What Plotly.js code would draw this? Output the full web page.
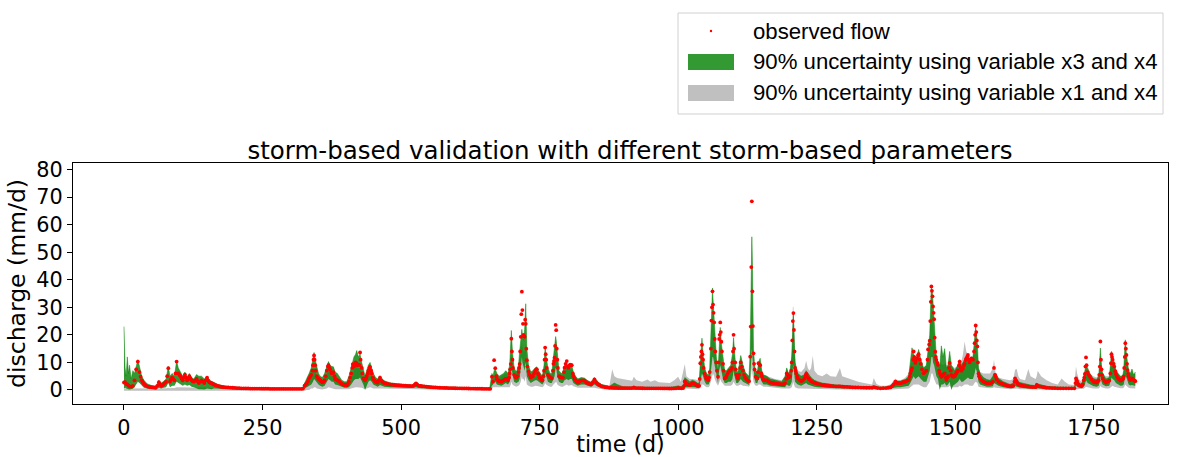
<!DOCTYPE html>
<html><head><meta charset="utf-8">
<script src="https://cdn.plot.ly/plotly-3.0.1.min.js"></script>
<style>body{margin:0;background:#fff}#chart{width:1183px;height:457px}</style>
</head><body><div id="chart"></div>
<script>
// ---------- observed flow: day and discharge (mm/d) ----------
const tObs = [
0,2,4,6,8,10,13,16,19,22,
25,28,30,32,34,36,39,42,45,48,
51,54,57,60,63,65,67,70,72,74,
76,78,80,83,85,87,89,91,93,95,
98,100,102,104,106,108,110,112,114,116,
118,120,122,124,126,128,131,133,135,137,
140,142,145,147,150,152,154,156,158,160,
162,165,168,171,174,177,180,184,188,192,
196,200,204,208,212,216,220,224,228,232,
236,240,244,248,252,256,260,264,268,272,
276,280,284,288,292,296,300,304,308,312,
316,320,323,326,328,330,332,334,336,338,
340,341,342,343,344,345,346,348,350,351,
353,354,356,358,360,362,364,366,368,369,
371,372,374,375,377,378,380,381,383,385,
387,389,391,393,395,398,400,402,404,406,
408,410,412,413,414,415,417,418,419,420,
421,423,425,426,427,429,430,432,434,435,
437,438,440,441,443,444,446,447,449,450,
452,454,456,458,460,462,464,466,468,470,
473,476,480,484,488,492,496,500,504,508,
512,516,520,523,525,527,529,532,535,538,
542,546,550,554,558,562,566,570,574,578,
582,586,590,594,598,602,606,610,614,618,
622,626,630,634,638,642,646,650,654,658,
661,
664,666,668,670,672,673,675,677,679,681,
683,685,687,689,691,693,695,696,697,698,
699,700,701,702,704,706,708,710,712,713,
714,715,716,717,718,719,720,721,722,723,
724,725,726,727,728,730,732,734,736,738,
740,742,744,745,747,748,750,751,753,755,
757,758,759,760,761,762,763,765,767,769,
771,772,774,775,776,777,778,779,780,781,
782,783,785,787,789,791,792,794,795,797,
799,801,802,804,805,807,808,810,811,813,
815,817,819,821,823,825,828,831,834,837,
840,843,846,849,852,855,858,861,864,868,
872,876,880,884,888,892,896,900,904,908,
912,916,920,924,928,932,936,940,944,948,
952,956,960,964,968,972,976,980,984,988,
992,996,1000,1003,1006,1009,1011,1012,1013,1015,
1017,1019,1021,1023,1025,1026,1028,1030,1032,1035,
1038,1039,1040,1041,1042,1043,1044,1045,1046,1048,
1050,1051,1053,1055,1056,1057,1059,1060,1061,1062,
1063,1064,1065,1066,1067,1069,1070,1072,1073,1074,
1075,1076,1077,1078,1079,1081,1082,1084,1086,1087,
1089,1091,1093,1095,1097,1098,1099,1100,1101,1103,
1104,1105,1107,1108,1110,1112,1113,1115,1117,1119,
1121,1123,1125,1128,1130,1131,1132,1133,1134,1135,
1136,1137,1138,1140,1142,1143,1144,1145,1147,1148,
1150,1151,1153,1154,1157,1160,1163,1166,1169,1172,
1175,1178,1181,1184,1187,1190,1193,1195,1196,1197,
1199,1201,1202,1204,1205,1206,1207,1208,1209,1210,
1211,1212,1213,1215,1216,1219,1222,1225,1228,1230,
1231,1232,1234,1236,1237,1240,1243,1246,1249,1252,
1256,1260,1264,1268,1272,1275,1280,1285,1289,1292,
1296,1300,1305,1310,1315,1320,1325,1330,1335,1340,
1345,1350,1353,1356,1360,1365,1370,1375,1379,1383,
1386,1389,1392,1394,1396,1399,1401,1404,1406,1408,
1410,1413,1416,1418,1419,1421,1422,1424,1425,1426,
1428,1429,1431,1433,1434,1436,1438,1440,1443,1445,
1448,1450,1451,1453,1454,1455,1456,1457,1458,1459,
1460,1461,1462,1463,1464,1465,1466,1468,1469,1471,
1472,1474,1475,1477,1478,1480,1481,1483,1484,1486,
1487,1489,1490,1492,1493,1495,1496,1498,1499,1501,
1502,1504,1505,1507,1508,1510,1511,1513,1514,1516,
1517,1519,1520,1522,1523,1525,1526,1528,1529,1531,
1532,1534,1535,1536,1537,1538,1539,1540,1541,1542,
1543,1545,1548,1551,1554,1557,1560,1563,1566,1568,
1570,1572,1573,1575,1578,1581,1584,1587,1590,1593,
1596,1599,1602,1605,1607,1608,1610,1611,1613,1614,
1617,1620,1623,1626,1629,1632,1636,1640,1645,1647,
1649,1652,1655,1659,1662,1665,1670,1675,1680,1685,
1690,1695,1700,1705,1710,1715,1717,1718,1719,1720,
1722,1723,1726,1728,1730,1732,1733,1734,1735,1736,
1737,1739,1741,1743,1746,1749,1752,1755,1757,1759,
1760,1761,1762,1763,1764,1765,1766,1769,1772,1775,
1778,1780,1781,1782,1783,1784,1786,1787,1789,1790,
1792,1794,1796,1798,1800,1802,1803,1804,1805,1806,
1807,1808,1809,1810,1811,1812,1813,1815,1816,1818,
1819,1821,1822,1824,1825];
const observed = [
2.7,2.8,2.2,2.0,1.6,1.3,1.2,1.5,3.5,7.5,
10.3,6.5,4.8,3.5,2.8,2.2,1.7,1.3,1.1,1.0,
0.9,0.85,0.8,1.5,2.8,2.0,1.5,1.8,2.2,2.6,
3.0,5,7.9,3.0,3.8,4.5,4.0,3.5,6,10.3,
6.0,5.5,5.0,4.2,3.5,4.5,5.6,4.5,3.5,4.2,
5.0,4.2,3.5,3.2,3.0,3.4,4.0,3.2,2.5,3,
3.5,3,2.5,3.5,4.5,3.5,2.8,2.6,2.5,2.2,
2.0,1.7,1.5,1.35,1.2,1.1,1.0,0.95,0.9,0.85,
0.8,0.75,0.7,0.65,0.6,0.6,0.55,0.55,0.5,0.5,
0.5,0.5,0.5,0.45,0.45,0.45,0.45,0.4,0.4,0.4,
0.4,0.4,0.4,0.4,0.4,0.4,0.4,0.4,0.4,0.4,
0.4,0.4,0.5,1.6,2,2.5,3.2,4.2,4.8,5.5,
7,9,11,12.5,11,9,7,5,4.4,4,
3.8,3.6,3.1,2.8,3,3.5,5,7,8.5,9,
8,7.5,6.5,6,6.2,6.5,5,4,3.8,3.6,
3.3,3.0,2.6,2.2,2.0,1.8,1.75,1.7,2.2,3,
4.5,6,8,9.4,9,8.5,9,10,9.8,9.5,
9,9.2,9,13.6,11,8,6,4.2,3.8,3.5,
4.2,5,6,7,8,8.4,7,6,4.5,4,
3.5,3,2.8,2.7,3.5,4.5,3.5,3,2.7,2.5,
2.3,2.2,2.0,1.9,1.8,1.75,1.7,1.65,1.6,1.55,
1.5,1.45,1.4,1.6,2,2.4,2.0,1.6,1.45,1.35,
1.3,1.2,1.1,1.0,0.95,0.9,0.85,0.8,0.78,0.75,
0.72,0.7,0.68,0.65,0.62,0.6,0.58,0.56,0.55,0.54,
0.52,0.51,0.5,0.48,0.46,0.45,0.44,0.42,0.41,0.4,
0.4,
4.8,3,10.8,7.9,5,4,3.5,3.2,3.1,3,
3.3,3.5,3.8,4,3.8,3.5,4.5,6,7.5,9.4,
18.6,14,11,8,5.5,4.8,4.4,5,6.5,8,
9.4,14,19.3,27.5,35.7,29,24,20,19.5,19.3,
25.5,24,15,10.8,8.5,6.7,5.5,4.5,4.8,5,
6,7,7.5,7.5,6,5.5,4.5,4.2,3.8,3.5,
5,7,11,15.4,13,11,8,5.5,5,4.5,
4.3,4.2,7,9.5,10.5,11.7,16,23.6,21.7,15,
11,8,5,4.7,4.5,4.5,4.5,6.5,8.1,9.5,
10.5,8.5,8,8.8,9.2,9,9,6,5,4,
3.5,3,2.7,3,3.3,3.4,3.5,3.4,2.8,2.4,
2.2,2.0,2.8,3.8,2.8,2.2,1.8,1.4,1.2,1.0,
0.9,0.8,0.8,0.75,0.72,0.7,0.7,0.7,0.7,0.7,
0.7,0.7,0.8,0.7,0.68,0.65,0.62,0.6,0.6,0.6,
0.6,0.6,0.6,0.6,0.58,0.57,0.55,0.55,0.52,0.52,
0.55,0.6,0.7,0.65,0.6,0.7,1.5,3.2,2.8,2.2,
2,1.9,1.8,2,2.4,2.5,2.4,2.2,1.8,1.5,
1.5,4,9.7,12,14,16.4,13,11,8,6,
4.8,4.2,3.8,3.6,4.5,6.5,15,25.2,30,35.8,
31,28,24.5,18.5,14,10,7,4.8,10,18.5,
20,24.5,21,17.5,14,9.5,7,4.2,4.5,4.8,
5.8,6.5,7,7.2,8,10,14,20,15,10,
7.5,5.5,4.6,4.2,5.5,8,10,8.5,7,5.5,
4.5,4,3.5,3.2,12.1,23,44.6,68.5,35.8,23.2,
13.3,9.5,7.4,4.8,4.3,4.2,6.5,9.7,9.2,9,
6,5,4,3.6,3.5,3.6,3.1,2.7,2.6,2.5,
2.4,2.3,2.2,2.1,2.0,2.1,2.5,4,6,5.5,
4.5,4.8,5,7,10,18,25,27.9,21.8,14,
8,7,6,4.8,4.2,3.6,3.2,3.5,4.2,5.2,
5.8,5.5,4.5,4,3.8,3.2,2.8,2.6,2.4,2.2,
2.0,1.8,1.7,1.6,1.55,1.5,1.4,1.3,1.3,1.3,
1.2,1.15,1.1,1.0,0.95,0.92,0.9,0.85,0.82,0.8,
0.8,0.8,1.0,0.85,0.7,0.6,0.65,0.7,0.8,0.9,
1.3,2.0,3.0,2.7,2.5,2.5,2.5,2.6,2.8,2.9,
3.0,3.3,3.6,4.8,6,7,7.9,11,14,12,
9.8,10.5,11.5,12.5,13,11,9.5,7.5,6.1,6.5,
7,11,14.7,16.5,17.9,25,32,37.6,36,34,
30.3,28,25.7,19,13.9,12,10.9,9.8,9.1,7,
6.1,5.2,4.8,5.2,5.5,5.8,6,4.5,3.6,4.5,
5,8,9.8,7,5.5,5,4.8,4.9,5,5.7,
6.1,6.7,7,9,10.3,8,7,7.5,8,9,
9.5,10.8,11.5,12.2,12.7,11,10,11,11.5,11.2,
11,14,17,20,23.4,21,18,15.8,10,6,
5,4.2,3.5,3,2.7,2.5,2.45,2.4,2.7,3,
8,5.5,4.8,3.8,3,2.6,2.3,2.1,1.8,1.6,
1.45,1.3,1.35,1.5,3,4.2,3.4,3.0,2.3,2.0,
1.8,1.65,1.5,1.4,1.3,1.2,1.1,1.05,1.0,1.8,
1.5,1.3,1.2,1.0,0.9,0.8,0.75,0.7,0.65,0.6,
0.6,0.6,0.6,0.6,0.6,0.6,2.5,4.2,3.5,3,
2.2,1.8,1.6,1.4,2,3.5,4.5,5.8,8.5,11.8,
9,6.5,5.5,4.8,3.8,3,2.8,2.7,3,3.5,
5.5,8.5,17.6,11,7.5,5.5,4.2,3.3,2.7,3,
3.4,6,9.7,13,12,11,9.5,8.5,6.8,5.8,
4.8,4.2,3.8,3.4,3.5,3.8,4.2,4.8,8,12,
17,15,12.7,9.5,7.2,5.8,4.8,4,3.6,4,
4.2,3.8,3.6,3.3,3.2];

// ---------- uncertainty bands: day ----------
const tBand = [
0,2,4,6,8,10,13,16,19,22,
25,28,32,36,42,50,58,63,67,72,
76,80,83,87,91,95,98,102,106,110,
114,118,122,126,131,135,140,145,150,154,
158,162,170,180,194,210,240,270,300,322,
326,330,334,338,341,343,345,348,351,354,
358,362,366,369,372,375,378,381,385,389,
393,398,402,406,410,413,415,418,420,423,
426,429,432,435,438,441,444,447,450,454,
458,462,466,470,480,495,510,520,527,532,
546,570,600,630,660,664,666,668,670,673,
677,681,685,689,693,696,698,699,701,704,
708,712,714,716,718,719,721,723,724,725,
727,730,734,738,742,745,748,751,755,758,
760,762,765,769,772,775,777,779,780,782,
785,789,792,795,799,802,805,808,811,815,
819,825,831,837,843,849,855,861,868,876,
881,885,890,900,910,917,920,925,935,945,
950,958,965,975,985,993,1000,1005,1010,1012,
1015,1021,1026,1030,1035,1038,1040,1043,1045,1048,
1051,1055,1057,1060,1062,1063,1065,1066,1069,1072,
1074,1076,1078,1081,1084,1087,1091,1095,1098,1100,
1103,1105,1108,1113,1117,1121,1125,1128,1130,1131,
1132,1133,1134,1135,1136,1138,1140,1143,1145,1148,
1151,1154,1160,1166,1175,1187,1193,1196,1199,1202,
1205,1207,1208,1209,1211,1213,1216,1222,1228,1231,
1234,1237,1240,1243,1246,1252,1260,1268,1275,1285,
1292,1296,1310,1325,1340,1350,1353,1358,1365,1375,
1383,1389,1392,1396,1401,1406,1410,1416,1419,1422,
1425,1428,1431,1434,1438,1443,1448,1451,1454,1456,
1457,1459,1460,1462,1464,1466,1469,1472,1475,1478,
1481,1484,1487,1490,1493,1496,1499,1502,1505,1508,
1511,1514,1517,1520,1523,1526,1529,1532,1535,1537,
1540,1542,1545,1551,1557,1563,1568,1570,1573,1578,
1587,1599,1605,1608,1611,1614,1617,1626,1632,1636,
1645,1647,1649,1655,1665,1675,1685,1692,1698,1705,
1715,1718,1720,1723,1728,1732,1734,1736,1739,1743,
1749,1755,1759,1761,1762,1764,1766,1772,1778,1781,
1782,1784,1787,1790,1794,1798,1802,1804,1806,1807,
1809,1811,1813,1816,1819,1822,1825];

// 90% band, variables x3 and x4 (lower / upper)
const x3x4Low = [
0.5,0.8,0.5,0.5,0.3,0.2,0.2,0.4,1,2,
3,2.5,1.5,0.8,0.5,0.3,0.3,0.8,0.5,0.8,
1,2.5,1,1.5,1.5,3,2.5,2,1.5,2,
1.5,1.8,1.2,1,0.5,0.3,0.3,0.2,0.5,0.3,
0.3,0.5,0.4,0.3,0.2,0.1,0.1,0.05,0.05,0.05,
0.5,1,1.5,2,3,4,3.5,2.5,2,1.5,
1.2,1.5,3,4,3.5,3,3,2,1.8,1.5,
1,0.8,0.8,1,2,3,3.5,4,4,4,
4.5,3.5,2,0,1.5,3,3.5,3,2,1.5,
1.2,1.8,1.5,1.2,1,0.8,0.7,0.7,1,0.7,
0.5,0.3,0.2,0.2,0.1,1.5,2,3,3,2,
1.8,1.5,2,2.5,2,3,5,8,6,3,
2.5,3,4,8,12,10,8,7,9,10,
5,3.5,2.5,3,3.5,3.5,3,2.5,2,3,
6,5,3,2.5,2.5,4,5,8,8,5,
3,2.5,2.5,3.5,4,3.5,4,4,2.5,2,
1.5,2,2,1.5,1.2,2,1.2,0.8,0.5,0.4,
0.3,0.2,0.2,0.2,0.2,0.2,0.3,0.2,0.2,0.2,
0.2,0.2,0.2,0.2,0.2,0.2,0.2,0.2,0.3,1,
1,0.8,1,1,0.7,0.7,3,6,5,3,
2,2,3,9,12,12,10,8,5,2.5,
7,9,7,4,2.5,2.5,3,3,4,7,
4,2.5,2.5,4,3,2.5,2,1.8,4,8,
12,15,12,9,6,4,2.5,2.5,4,4.5,
3,2,2,1.5,1.3,1,1,2,1.5,1.5,
3,8,9,7,3,2.5,2,1.5,2,2.5,
2,1.8,1.5,1.2,1.2,1,0.8,0.7,0.7,0.6,
0.6,0.5,0.5,0.4,0.4,0.4,0.5,0.4,0.3,0.3,
0.4,0.8,1,1,1,1.2,1.2,1.5,2.5,3.5,
5,4,4.5,5,4,3,3,5,7,10,
12,12,10,9,6,5,4,0,2,2,
2.5,1.5,2,3,0,1.5,2,2.5,3,4,
3,3,3.5,4,4.5,4,4,4,6,8,
6,3,2,1.5,1.2,1.2,1.3,2.5,2,1.5,
1,0.6,0.7,1.5,1.2,0.9,0.8,0.6,0.5,0.5,
0.4,0.6,0.6,0.5,0.4,0.3,0.3,0.3,0.3,0.3,
0.3,1.5,1.2,0.8,0.6,1.2,2,3.5,2.5,2,
1.4,1.2,1.5,3,5,3,2,1.3,1.5,3.5,
4.5,4,3.5,2.5,2,1.5,1.6,2,4,5,
4.5,3,2,1.6,1.8,1.6,1.5];
const x3x4High = [
23,8,5,12,6,9,4,7,6,9,
11,8.5,5,3.5,2.2,1.6,1.4,3.5,2.5,3.2,
4,8.5,5,6,5,10.5,8,6.5,5,6.5,
4.5,6,4.5,4,5.6,5,5,4,5,3.5,
3.2,2.8,2,1.5,1.2,0.9,0.8,0.7,0.6,0.6,
2.5,4,6,8,11,13.6,11,8,6,5,
4.5,6,9,10.3,9,8.5,8.4,6.5,6,4.5,
3.5,3,3,5,8,11,12,13,14.3,12,
13,10,7,5,7,9,10,8,6,4.5,
4,5.2,4,3.3,2.6,2.2,2,1.8,2.8,2,
1.6,1.2,1,0.8,0.7,6,5,7,7.5,6,
5,5.5,6,7,6,9,15,21.6,14,8,
6.5,9,14,20,22,20,18,22,28,31.3,
15,9,6.5,7,8,8.4,7,6,5,9,
15.5,12,8,6,6,12,15,19.4,18,12,
7,6,6.5,9,9.5,8.5,9.5,9,6.5,5,
4,4.5,4.3,3.3,2.8,4.5,3,2,1.6,1.3,
2,2.5,2,1.2,1.1,1.1,1.5,1.1,1,1,
1,1,1,0.9,0.9,1.2,1.5,1.2,2,4.5,
4,3,3.5,3.2,2.5,2.5,10,18.8,13,8,
6,5.5,8,25,37,33,26,20,12,7,
17,22.7,17,11,7,7,8,9,13,19,
11,7,6.5,12.5,9,6.5,5.5,5,14,38,
52,55.6,47,25,15,9,7,6.5,10,11.5,
7,5.5,5,4,3.5,3,5,8,6,7,
12,26,28,22,10,8,6,5,5.5,7,
6,5,4.5,4,3.5,3,2.5,2.3,2,1.8,
1.8,1.7,1.5,1.3,1.2,1.2,1.5,1.2,1,1.1,
1.5,2.8,3.5,3.2,3.2,3.6,3.8,5,10,15.3,
13,12,12,14.7,11,8,9,16,20,33,
37.8,35,31,27,16,12,10,8,16,12,
15,8,9,14,9,8,7,8,9,11,
9,10,11,12,13,11,12,12,18,23,
17,8,6,4.5,3.8,3.5,5,6,6,4.2,
3,2,2.5,4.5,4,3,2.7,2.2,2,1.8,
1.6,2.5,2.2,1.8,1.3,1.2,1,1,1,1,
1,3.5,3.5,2.5,2,5,7.5,9,8,6,
4.2,3.8,5,10,15.2,9,6,4,4.5,11,
14,12,10,7,6,5,5,7,15,18.2,
13,9,7,6,7.6,5.5,6.5];

// 90% band, variables x1 and x4 (lower / upper)
const x1x4Low = [
-0.3,-0.3,-0.3,-0.3,-0.3,-0.3,-0.3,-0.3,-0.3,-0.3,
-0.3,-0.3,-0.3,-0.3,-0.3,-0.3,-0.3,-0.3,-0.3,-0.3,
-0.3,-0.3,-0.3,-0.3,-0.3,-0.3,-0.3,-0.3,-0.3,-0.3,
-0.3,-0.3,-0.3,-0.3,-0.3,-0.3,-0.3,-0.3,-0.3,-0.3,
-0.3,-0.3,-0.3,-0.3,-0.3,-0.3,-0.3,-0.3,-0.3,-0.3,
-0.3,0,0,0.5,0.5,1,1,0.5,0.5,0.3,
0.2,0.3,0.5,1,0.8,0.5,0.5,0.3,0.3,0.3,
0.2,0.2,0.2,0.3,0.5,0.8,1,1,1,1,
1,0.8,0.5,0.3,0.5,0.8,1,0.8,0.5,0.5,
0.4,0.5,0.5,0.5,0.5,0.4,0.4,0.3,0.5,0.3,
0.2,0.1,0,-0.2,-0.2,0.5,1,1,1,1,
1,1,1,1,1,1,2,3,2,1.5,
1.2,1.5,2,3,5,4,4,3,4,5,
2,1.5,1.2,1.2,1.5,1.5,1.3,1.2,1,1.5,
2.5,2,1.5,1.2,1.2,2,2.5,3,3,2,
1.5,1.2,1.2,1.5,2,1.5,1.8,1.8,1.3,1,
0.8,0.8,0.8,0.7,0.6,0.8,0.5,0.3,0.2,0.1,
0,0,0,0,0,0,0,0,0,0,
0,0,0,0,0,0,0,0,0.2,0.5,
0.5,0.4,0.5,0.5,0.3,0.3,1,2,2,1.5,
1,1,1.5,4,6,6,5,4,2.5,1.5,
2.5,4,3,2,1.5,1.5,1.5,1.5,2,3,
2,1.5,1.5,2,1.5,1.5,1.3,1.2,2,4,
6,8,6,4,3,2,1.5,1.5,2,2,
1.5,1.2,1.2,1,0.8,0.5,0.5,0.5,0.5,0.5,
1,3,3,2,1,0.8,0.5,0.5,0.5,0.5,
0.5,0.5,0.5,0.5,0.5,0.4,0.3,0.3,0.3,0.2,
0.2,0.2,0.2,0.1,0.1,0.1,0.1,0.1,0,0,
0,0.2,0.3,0.3,0.3,0.4,0.4,0.5,1,1.5,
2,2,2,2,1.5,1,1,2,3,5,
6,6,5,4,3,2,2,1,1,1,
1,0.8,1,1.5,1,1,1,1,1,1.5,
1.2,1.5,2,2,2,1.5,1.5,1.5,2.5,3,
2.5,1.2,1,0.8,0.6,0.6,0.7,1,0.8,0.6,
0.5,0.3,0.4,0.6,0.5,0.4,0.3,0.3,0.3,0.2,
0.2,0.2,0.2,0.2,0.1,0,0,0,0,0,
0,0.3,0.3,0.2,0.2,0.4,0.8,1.2,1,0.8,
0.5,0.5,0.5,1,1.5,1,0.8,0.5,0.5,1,
1.5,1.5,1.2,1,0.8,0.6,0.6,0.8,1.5,2,
1.5,1,0.8,0.6,0.6,0.6,0.5];
const x1x4High = [
0.5,0.5,0.5,0.5,0.5,0.5,0.5,0.5,0.6,0.6,
0.7,0.7,0.6,0.5,0.5,0.5,0.5,0.5,0.5,0.5,
0.6,0.8,0.6,0.7,0.7,1,1,0.9,0.8,0.9,
0.8,0.9,0.8,0.8,0.9,0.8,0.9,0.8,1,0.8,
0.7,0.6,0.5,0.5,0.4,0.4,0.4,0.4,0.4,0.4,
1,3,4,5,7,8,7,5,4,3.5,
3.2,4,6,6.5,6,5,5.5,4,3.8,3.5,
2.8,2.5,2.5,3.5,5,6,7.5,8,8.5,8,
8,6,4,3.5,4.5,6,6.5,5.5,4,3.5,
3,3.8,3,2.8,2.5,2.2,2,1.9,2.8,1.8,
1.3,1,0.8,0.6,0.5,4,4,5,5.5,4.5,
4.5,5,5.5,6,5.5,7,10,14,10,7,
6,7,10,14,18,16,14,14,16,17,
10,7,5.5,6,6.5,6.5,6,5.5,5,7,
11,9,6.5,5.5,5.5,9,11,14,13,9,
6,5.5,5.5,7,8,7,7.5,7.5,6,5,
4,4.2,4,3.5,3,4.2,3,2.2,1.8,1.5,
7.5,5,4.3,4,3.5,3.3,4.8,3.5,3,3.8,
3,3.5,2.8,2.6,2.5,3.5,4.8,3,8,9.4,
5,4,4,3.8,3.5,3.5,9,15,11,7,
5.5,5,6.5,18,28,25,20,16,10,6,
13,17,13,8,6,6,6.5,7,10,13,
8,6,6,9,7,6,5.5,5,10,20,
30,30,22,15,10,7,6,6,8,9,
6.5,5.5,5,4.5,4,3.5,5,8,6,7,
14,30,30.3,25,12,9,7,6.5,8,10.6,
8,7,8,12.4,7,5.5,5,6,5,4.8,
8,5,4,3,2.3,2,4.3,2.2,1.5,1.5,
2,3.5,4.2,3.5,3.5,4,4.5,6,9,11,
12,11,11,12,10,8,9,14,18,28,
30,28,25,20,14,11,10,9,9.5,9,
9.5,9,9,10,9,8.5,8,8.5,9,11,
10,13,17.6,14,13,11,12,12,15,18,
13,8,6.5,6,6,6,8,11,6,4.5,
4,3.5,4,7.3,7.6,5,4,3.5,7.6,5,
4,5,7,5,3.5,2.5,2,4.2,3,2,
1.8,8.5,6,4,3,5,7,8,7,6,
5,4.5,5.5,9,12,8,6,5,5,10,
11,10,9,7,6,5,5.5,6.5,12,14,
11,8,6.5,6,6,5.5,6];

const xTicks = [0,250,500,750,1000,1250,1500,1750];
const yTicks = [0,10,20,30,40,50,60,70,80];
const legendLabels = ['observed flow', '90% uncertainty using variable x3 and x4', '90% uncertainty using variable x1 and x4'];

if (observed.length !== tObs.length) throw new Error('observed length ' + observed.length + ' vs ' + tObs.length);
[x3x4Low, x3x4High, x1x4Low, x1x4High].forEach((a, i) => {
  if (a.length !== tBand.length) throw new Error('band ' + i + ' length ' + a.length + ' vs ' + tBand.length);
});

const W = 1183, H = 457;
const M = {l: 73, r: 15, t: 163, b: 53};
const pw = W - M.l - M.r, ph = H - M.t - M.b;
const px = x => (x - M.l) / pw;          // pixel -> paper x
const py = y => (H - M.b - y) / ph;      // pixel -> paper y

const GREEN = 'rgba(0,128,0,0.8)', GREY = '#c0c0c0', RED = '#ff0000';
const tickFont = {family: 'DejaVu Sans', size: 20.8, color: '#000'};
const legFont = {family: 'Liberation Sans, Arial, sans-serif', size: 22.2, color: '#000'};

const traces = [
  {x: tBand, y: x1x4Low, type: 'scatter', mode: 'lines', line: {width: 0, color: 'rgba(0,0,0,0)'}, showlegend: false},
  {x: tBand, y: x1x4High, type: 'scatter', mode: 'lines', fill: 'tonexty', fillcolor: GREY,
   line: {width: 0, color: GREY}, name: legendLabels[2], showlegend: false},
  {x: tBand, y: x3x4Low, type: 'scatter', mode: 'lines', line: {width: 0, color: 'rgba(0,0,0,0)'}, showlegend: false},
  {x: tBand, y: x3x4High, type: 'scatter', mode: 'lines', fill: 'tonexty', fillcolor: GREEN,
   line: {width: 0.6, color: GREEN}, name: legendLabels[1], showlegend: false},
  {x: tObs, y: observed, type: 'scatter', mode: 'markers',
   marker: {size: 3.8, color: RED, line: {width: 0}}, name: legendLabels[0], showlegend: false}
];

// legend drawn as shapes + annotations (matplotlib-style box)
const box = {x0: 678, x1: 1163, y0: 13, y1: 114};
const rowsY = [31, 62, 93];
const shapes = [
  {type: 'rect', xref: 'paper', yref: 'paper', x0: px(box.x0), x1: px(box.x1), y0: py(box.y1), y1: py(box.y0),
   line: {color: '#d0d0d0', width: 1}, fillcolor: '#ffffff', layer: 'above'},
  {type: 'circle', xref: 'paper', yref: 'paper', x0: px(709.8), x1: px(712.2), y0: py(rowsY[0] + 1.2), y1: py(rowsY[0] - 1.2),
   line: {width: 0}, fillcolor: RED, layer: 'above'},
  {type: 'rect', xref: 'paper', yref: 'paper', x0: px(688), x1: px(734), y0: py(rowsY[1] + 8), y1: py(rowsY[1] - 8),
   line: {width: 0}, fillcolor: '#339933', layer: 'above'},
  {type: 'rect', xref: 'paper', yref: 'paper', x0: px(688), x1: px(734), y0: py(rowsY[2] + 8), y1: py(rowsY[2] - 8),
   line: {width: 0}, fillcolor: GREY, layer: 'above'}
];
const annotations = legendLabels.map((txt, i) => ({
  text: txt, xref: 'paper', yref: 'paper', x: px(751), y: py(rowsY[i]), xanchor: 'left', yanchor: 'middle',
  showarrow: false, font: legFont
}));

const layout = {
  width: W, height: H,
  margin: {l: M.l, r: M.r, t: M.t, b: M.b, pad: 0},
  paper_bgcolor: '#fff', plot_bgcolor: '#fff',
  font: {family: 'DejaVu Sans', color: '#000'},
  showlegend: false,
  title: {text: 'storm-based validation with different storm-based parameters',
          font: {family: 'DejaVu Sans', size: 24.5, color: '#000'},
          xref: 'paper', x: px(630), xanchor: 'center', yref: 'container', y: 1 - 150/457, yanchor: 'middle'},
  xaxis: {range: [-92, 1884], tickvals: xTicks, ticktext: xTicks.map(String), ticks: 'outside', ticklen: 5, tickwidth: 1, tickcolor: '#000',
          showline: true, mirror: true, linecolor: '#000', linewidth: 1, showgrid: false, zeroline: false,
          tickfont: tickFont, title: {text: 'time (d)', font: {family: 'DejaVu Sans', size: 22.2, color: '#000'}, standoff: 1}},
  yaxis: {range: [-5.1, 82.4], tickvals: yTicks, ticktext: yTicks.map(String), ticks: 'outside', ticklen: 5, tickwidth: 1, tickcolor: '#000',
          showline: true, mirror: true, linecolor: '#000', linewidth: 1, showgrid: false, zeroline: false,
          tickfont: tickFont, title: {text: 'discharge (mm/d)', font: {family: 'DejaVu Sans', size: 23.5, color: '#000'}, standoff: 4}},
  shapes: shapes,
  annotations: annotations
};
Plotly.newPlot('chart', traces, layout, {displayModeBar: false, staticPlot: true});
</script></body></html>
